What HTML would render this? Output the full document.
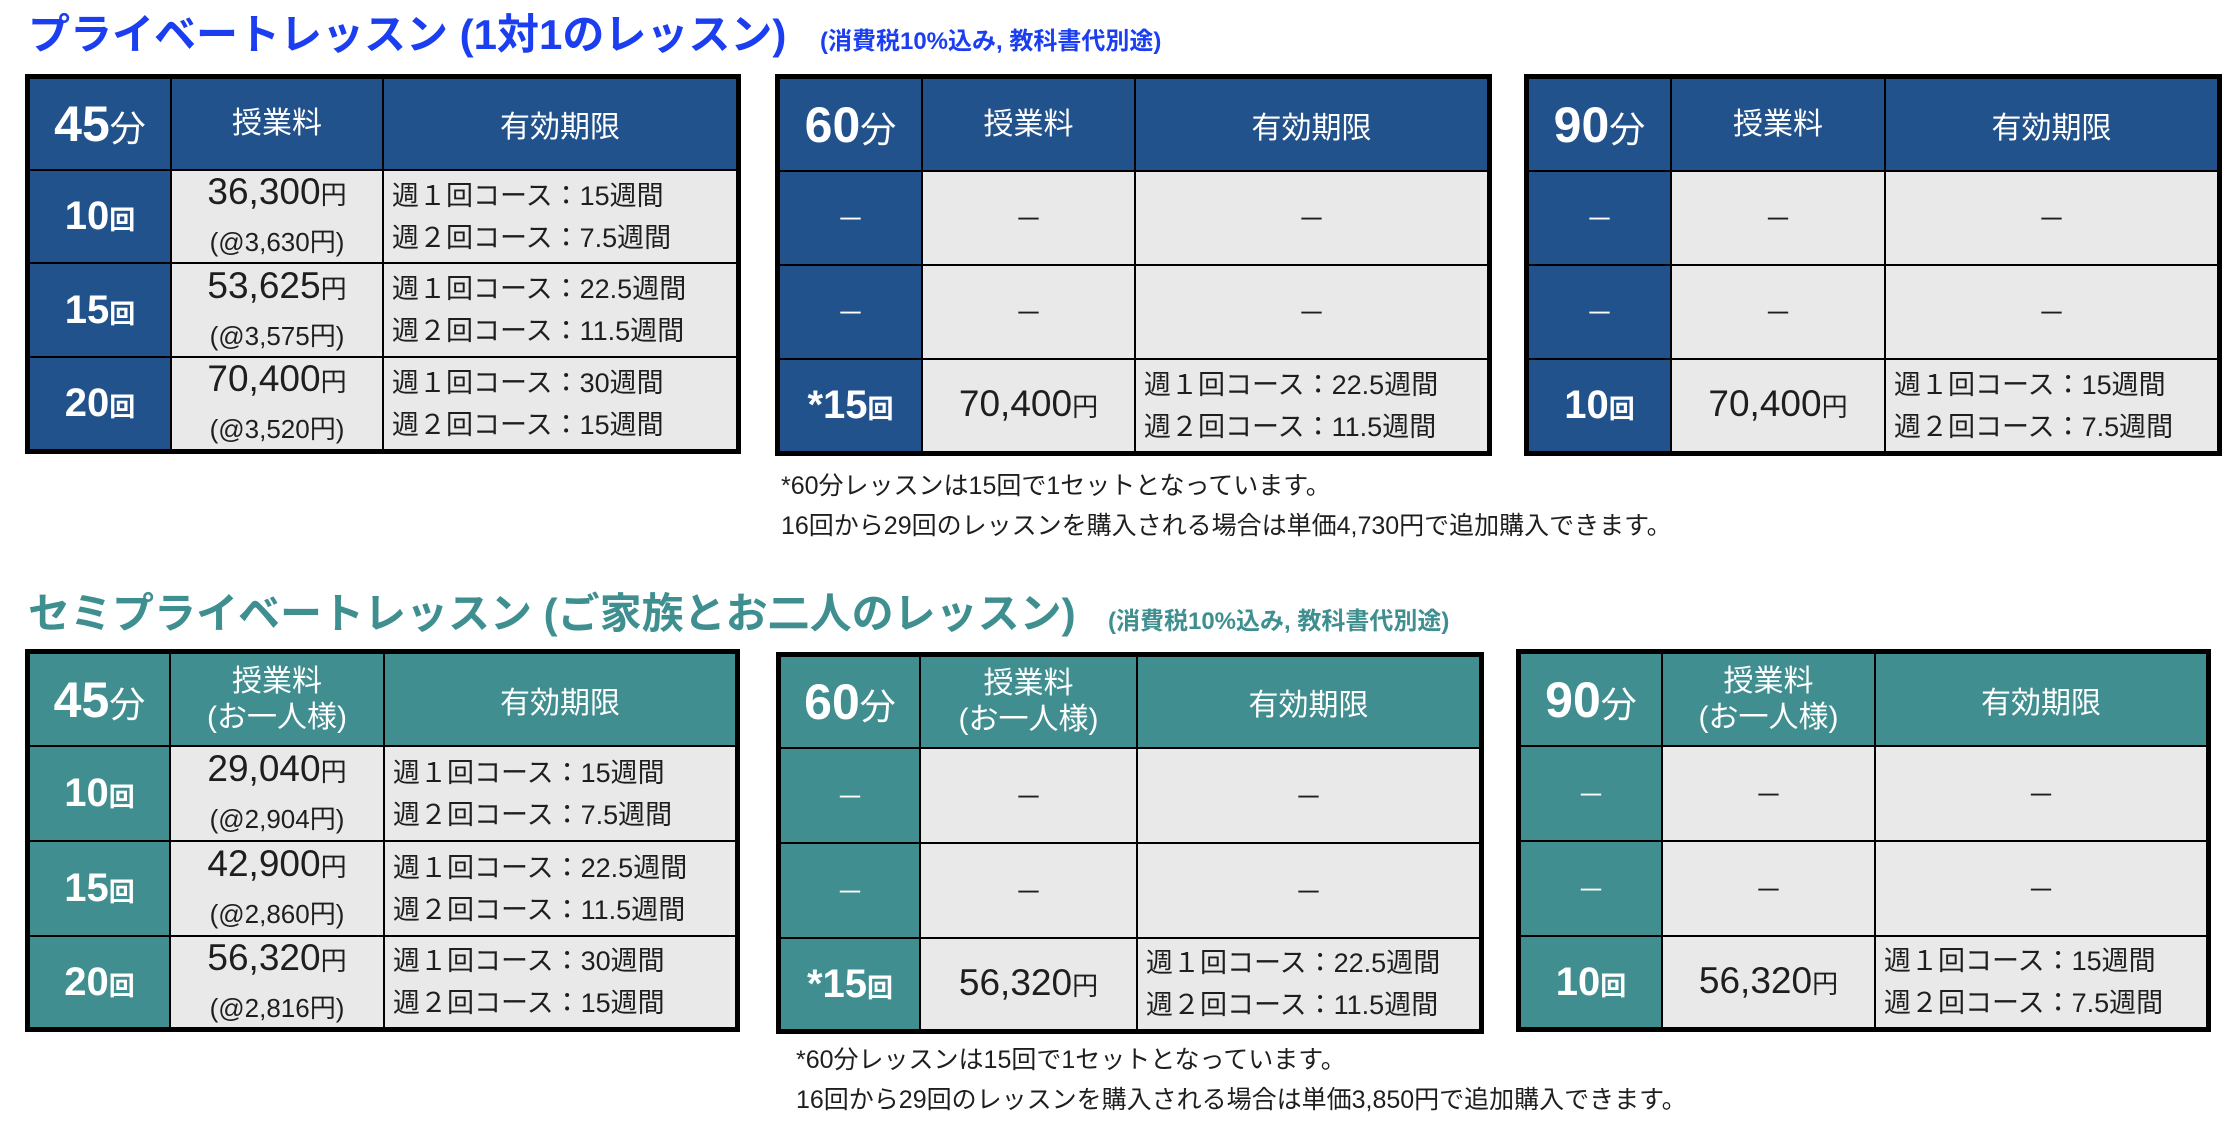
<!DOCTYPE html>
<html><head><meta charset="utf-8">
<style>
*{margin:0;padding:0;box-sizing:border-box}
body{width:2238px;height:1136px;background:#fff;position:relative;overflow:hidden;font-family:"Liberation Sans","Noto Sans CJK JP",sans-serif;color:#1e1e1e}
.abs{position:absolute;white-space:nowrap}
.title{font-weight:bold;font-size:42px;line-height:50px}
.sub{font-weight:bold;font-size:24px;line-height:30px}
.tbl{position:absolute;background:#000}
.cell{position:absolute;display:flex;flex-direction:column;justify-content:center;align-items:center;white-space:nowrap}
.g{background:#e9e9e9}
.hd{color:#fff;font-size:30px}
.dur b{font-size:50px;font-weight:bold}
.dur span{font-size:36px}
.cnt b{font-size:40px;font-weight:bold}
.cnt span{font-size:26px;font-weight:bold}
.price{font-size:37px;line-height:42px}
.price span{font-size:26px}
.unit{font-size:26px;line-height:40px;margin-top:6px}
.per{align-items:flex-start;padding-left:8px;font-size:27px;line-height:42px}
.dash{font-size:28px}
.note{font-size:25px;line-height:40px}
</style></head><body>
<div class="abs title" style="left:28px;top:10px;color:#1a3ef0">プライベートレッスン (1対1のレッスン)</div>
<div class="abs sub" style="left:820px;top:27px;color:#1a3ef0">(消費税10%込み, 教科書代別途)</div>
<div class="abs title" style="left:28px;top:589px;color:#3f8f90">セミプライベートレッスン (ご家族とお二人のレッスン)</div>
<div class="abs sub" style="left:1108px;top:607px;color:#3f8f90">(消費税10%込み, 教科書代別途)</div>
<div class="abs note" style="left:781px;top:466px">*60分レッスンは15回で1セットとなっています。<br>16回から29回のレッスンを購入される場合は単価4,730円で追加購入できます。</div>
<div class="abs note" style="left:796px;top:1040px">*60分レッスンは15回で1セットとなっています。<br>16回から29回のレッスンを購入される場合は単価3,850円で追加購入できます。</div>
<script>
const BLUE='#22528c', TEAL='#408e8f';
const P1=['週１回コース：','週２回コース：'];
function per(a,b){return '<div>'+P1[0]+a+'週間</div><div>'+P1[1]+b+'週間</div>';}
function pr(v,u){return '<div class="price">'+v+'<span>円</span></div>'+(u?'<div class="unit">(@'+u+'円)</div>':'');}
function cnt(n){return '<div class="cnt"><b>'+n+'</b><span>回</span></div>';}
const D='<div class="dash">－</div>';
const tables=[
 {name:'private-45min-table',x:25,y:74,x1:741,y1:454,c:[171,383],r:[170,263,357],col:BLUE,dur:'45',fee:'授業料',
  rows:[[cnt('10'),pr('36,300','3,630'),per('15','7.5')],[cnt('15'),pr('53,625','3,575'),per('22.5','11.5')],[cnt('20'),pr('70,400','3,520'),per('30','15')]]},
 {name:'private-60min-table',x:775,y:74,x1:1492,y1:456,c:[922,1135],r:[171,265,359],col:BLUE,dur:'60',fee:'授業料',
  rows:[[D,D,D],[D,D,D],[cnt('*15'),pr('70,400'),per('22.5','11.5')]]},
 {name:'private-90min-table',x:1524,y:74,x1:2222,y1:456,c:[1671,1885],r:[171,265,359],col:BLUE,dur:'90',fee:'授業料',
  rows:[[D,D,D],[D,D,D],[cnt('10'),pr('70,400'),per('15','7.5')]]},
 {name:'semi-45min-table',x:25,y:649,x1:740,y1:1032,c:[170,384],r:[746,841,936],col:TEAL,dur:'45',fee:'授業料<br>(お一人様)',
  rows:[[cnt('10'),pr('29,040','2,904'),per('15','7.5')],[cnt('15'),pr('42,900','2,860'),per('22.5','11.5')],[cnt('20'),pr('56,320','2,816'),per('30','15')]]},
 {name:'semi-60min-table',x:776,y:652,x1:1484,y1:1034,c:[920,1137],r:[748,843,938],col:TEAL,dur:'60',fee:'授業料<br>(お一人様)',
  rows:[[D,D,D],[D,D,D],[cnt('*15'),pr('56,320'),per('22.5','11.5')]]},
 {name:'semi-90min-table',x:1516,y:649,x1:2211,y1:1032,c:[1662,1875],r:[746,841,936],col:TEAL,dur:'90',fee:'授業料<br>(お一人様)',
  rows:[[D,D,D],[D,D,D],[cnt('10'),pr('56,320'),per('15','7.5')]]}
];
tables.forEach(t=>{
  const tb=document.createElement('div');
  tb.className='tbl';
  
  
  tb.style.cssText=`left:${t.x}px;top:${t.y}px;width:${t.x1-t.x}px;height:${t.y1-t.y}px`;
  document.body.appendChild(tb);
  const xs=[t.x+5,t.c[0],t.c[1],t.x1-5].map(v=>v-t.x);
  const ys=[t.y+5,t.r[0],t.r[1],t.r[2],t.y1-5].map(v=>v-t.y);
  for(let ri=0;ri<4;ri++){for(let ci=0;ci<3;ci++){
    const c=document.createElement('div');
    const l=xs[ci]+(ci?1:0), r=xs[ci+1]-(ci<2?1:0), tp=ys[ri]+(ri?1:0), bt=ys[ri+1]-(ri<3?1:0);
    c.style.cssText=`left:${l}px;top:${tp}px;width:${r-l}px;height:${bt-tp}px`;
    let cls='cell';
    if(ri===0){
      cls+=' hd';c.style.background=t.col;
      c.innerHTML= ci===0?'<div class="dur"><b>'+t.dur+'</b><span>分</span></div>': ci===1?'<div style="text-align:center;line-height:36px">'+t.fee+'</div>':'<div>有効期限</div>';
      
    } else {
      const html=t.rows[ri-1][ci];
      if(ci===0){c.style.background=t.col;c.style.color='#fff';cls+=' hd';}
      else{cls+=' g'; if(ci===2 && html.indexOf('週')>=0) cls+=' per';}
      c.innerHTML=html;
      
    }
    c.className=cls;
    
    tb.appendChild(c);
  }}
});
</script>
</body></html>
